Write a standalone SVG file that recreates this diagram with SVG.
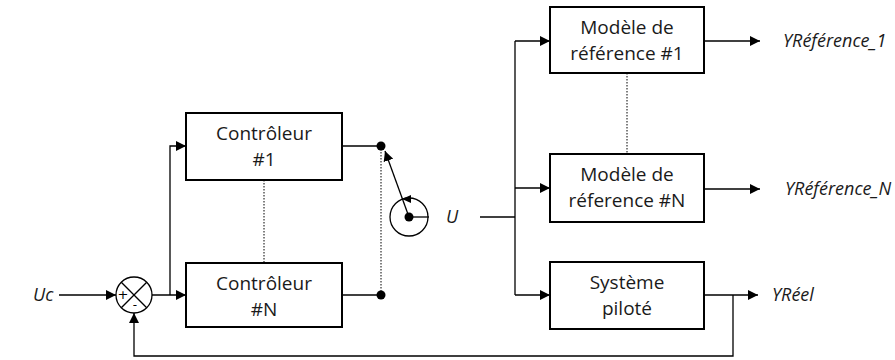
<svg xmlns="http://www.w3.org/2000/svg" width="895" height="360" viewBox="0 0 895 360">
<style>
.box{fill:#fff;stroke:#000;stroke-width:2}
.ln{fill:none;stroke:#000;stroke-width:1.3}
.dot{fill:none;stroke:#000;stroke-width:1;stroke-dasharray:1.5 1.5}
.t{font-family:"Open Sans",Lato,sans-serif;font-size:19px;fill:#1a1a1a;text-anchor:middle}
.i{font-family:"Open Sans",Lato,sans-serif;font-size:18px;font-style:italic;fill:#1a1a1a}
</style>
<defs>
<marker id="a" viewBox="0 0 10 10" refX="10" refY="5" markerWidth="10" markerHeight="10" markerUnits="userSpaceOnUse" orient="auto">
<path d="M0,0 L10,5 L0,10 z" fill="#000"/>
</marker>
</defs>
<rect width="895" height="360" fill="#fff"/>
<g id="connectors">
<line class="ln" x1="59" y1="295" x2="116" y2="295" marker-end="url(#a)"/>
<polyline class="ln" points="152,295 186,295" marker-end="url(#a)"/>
<polyline class="ln" points="170,295 170,146 186,146" marker-end="url(#a)"/>
<line class="ln" x1="342" y1="146" x2="381" y2="146"/>
<line class="ln" x1="342" y1="295" x2="381" y2="295"/>
<line class="dot" x1="381" y1="146" x2="381" y2="295"/>
<line class="dot" x1="264" y1="180" x2="264" y2="263"/>
<line class="dot" x1="627" y1="73" x2="627" y2="153"/>
<line class="ln" x1="409" y1="217" x2="385" y2="151" marker-end="url(#a)"/>
<line class="ln" x1="409" y1="217" x2="429" y2="217"/>
<line class="ln" x1="480" y1="217" x2="515" y2="217"/>
<polyline class="ln" points="515,41 515,295"/>
<line class="ln" x1="515" y1="41" x2="550" y2="41" marker-end="url(#a)"/>
<line class="ln" x1="515" y1="188" x2="550" y2="188" marker-end="url(#a)"/>
<line class="ln" x1="515" y1="295" x2="550" y2="295" marker-end="url(#a)"/>
<line class="ln" x1="704" y1="41" x2="760" y2="41" marker-end="url(#a)"/>
<line class="ln" x1="704" y1="189" x2="760" y2="189" marker-end="url(#a)"/>
<line class="ln" x1="704" y1="295" x2="758" y2="295" marker-end="url(#a)"/>
<polyline class="ln" points="733,295 733,356 134,356 134,313" marker-end="url(#a)"/>
</g>
<g id="sum">
<circle cx="134" cy="295" r="18" fill="#fff" stroke="#000" stroke-width="1.3"/>
<line class="ln" x1="121.3" y1="282.3" x2="146.7" y2="307.7"/>
<line class="ln" x1="146.7" y1="282.3" x2="121.3" y2="307.7"/>
<text x="123" y="299" style="font-family:'DejaVu Sans',sans-serif;font-size:13px;text-anchor:middle">+</text>
<text x="135" y="309" style="font-family:'DejaVu Sans',sans-serif;font-size:12px;text-anchor:middle">-</text>
</g>
<g id="switch">
<circle cx="381" cy="146" r="4.5" fill="#000"/>
<circle cx="381" cy="295" r="4.5" fill="#000"/>
<circle cx="409" cy="217" r="19" fill="none" stroke="#000" stroke-width="1.3"/>
<circle cx="409" cy="217" r="4.5" fill="#000"/>
<path d="M402,199 L411,195 L411,203 z" fill="#000"/>
</g>
<g id="ctrl1">
<rect class="box" x="186" y="113" width="156" height="67"/>
<text class="t" x="264" y="140">Contrôleur</text>
<text class="t" x="264" y="166">#1</text>
</g>
<g id="ctrlN">
<rect class="box" x="186" y="263" width="156" height="64"/>
<text class="t" x="264" y="290">Contrôleur</text>
<text class="t" x="264" y="316">#N</text>
</g>
<g id="model1">
<rect class="box" x="550" y="7" width="154" height="66"/>
<text class="t" x="627" y="34">Modèle de</text>
<text class="t" x="627" y="60">référence #1</text>
</g>
<g id="modelN">
<rect class="box" x="550" y="154" width="154" height="68"/>
<text class="t" x="627" y="181">Modèle de</text>
<text class="t" x="627" y="207">réference #N</text>
</g>
<g id="sys">
<rect class="box" x="550" y="262" width="154" height="67"/>
<text class="t" x="627" y="289">Système</text>
<text class="t" x="627" y="315">piloté</text>
</g>
<g id="labels">
<text class="i" x="33" y="301">Uc</text>
<text class="i" x="446" y="223">U</text>
<text class="i" x="783" y="47">YRéférence_1</text>
<text class="i" x="785" y="195">YRéférence_N</text>
<text class="i" x="772" y="301">YRéel</text>
</g>
</svg>
